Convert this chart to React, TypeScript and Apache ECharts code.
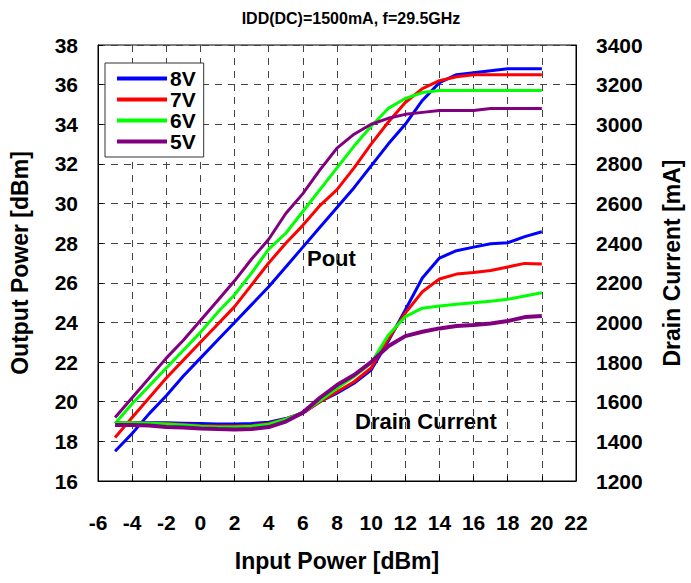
import React, { useEffect, useRef } from "react";
import * as echarts from "echarts";

// Input power sweep [dBm]
const inputPower = [-5, -4, -3, -2, -1, 0, 1, 2, 3, 4, 5, 6, 7, 8, 9, 10, 11, 12, 13, 14, 15, 16, 17, 18, 19, 20];

// Output power [dBm] per drain voltage
const pout8V = [17.5, 18.4, 19.4, 20.3, 21.3, 22.2, 23.1, 24.0, 24.9, 25.8, 26.8, 27.8, 28.8, 29.8, 30.8, 31.9, 33.0, 34.0, 35.2, 36.1, 36.5, 36.6, 36.7, 36.8, 36.8, 36.8];
const pout7V = [18.2, 19.2, 20.2, 21.2, 22.1, 23.0, 23.9, 24.8, 25.9, 27.0, 28.0, 28.9, 29.9, 30.7, 31.8, 33.0, 34.1, 35.1, 35.8, 36.2, 36.4, 36.5, 36.5, 36.5, 36.5, 36.5];
const pout6V = [18.9, 19.9, 20.8, 21.7, 22.6, 23.5, 24.5, 25.4, 26.5, 27.7, 28.5, 29.6, 30.7, 31.8, 32.9, 33.9, 34.8, 35.3, 35.6, 35.7, 35.7, 35.7, 35.7, 35.7, 35.7, 35.7];
const pout5V = [19.2, 20.2, 21.2, 22.2, 23.1, 24.1, 25.1, 26.1, 27.2, 28.2, 29.5, 30.5, 31.7, 32.8, 33.5, 34.0, 34.3, 34.5, 34.6, 34.7, 34.7, 34.7, 34.8, 34.8, 34.8, 34.8];

// Drain current [mA] per drain voltage
const idd8V = [1495, 1495, 1494, 1494, 1492, 1490, 1487, 1487, 1490, 1497, 1515, 1543, 1600, 1643, 1693, 1760, 1905, 2063, 2224, 2325, 2362, 2380, 2397, 2402, 2433, 2458];
const idd7V = [1494, 1494, 1492, 1490, 1485, 1480, 1477, 1477, 1480, 1490, 1513, 1543, 1600, 1650, 1701, 1770, 1915, 2047, 2155, 2219, 2244, 2252, 2262, 2280, 2298, 2295];
const idd6V = [1494, 1494, 1492, 1488, 1482, 1476, 1473, 1473, 1476, 1487, 1512, 1545, 1605, 1668, 1727, 1795, 1935, 2029, 2072, 2083, 2092, 2100, 2107, 2117, 2133, 2150];
const idd5V = [1482, 1482, 1480, 1472, 1470, 1465, 1462, 1460, 1462, 1472, 1500, 1545, 1620, 1684, 1735, 1800, 1880, 1931, 1953, 1970, 1982, 1987, 1995, 2007, 2027, 2033];

const voltages = ["8V", "7V", "6V", "5V"];
const colors = ["#0000FF", "#FF0000", "#00FF00", "#800080"];
const poutSets = [pout8V, pout7V, pout6V, pout5V];
const iddSets = [idd8V, idd7V, idd6V, idd5V];

const FONT = "'Liberation Sans', Arial, sans-serif";

const pair = (ys: number[]) => inputPower.map((x, i) => [x, ys[i]]);

export default function App() {
  const ref = useRef<HTMLDivElement>(null);

  useEffect(() => {
    if (!ref.current) return;
    const chart = echarts.init(ref.current, undefined, { renderer: "svg" });

    const dashed = { show: true, lineStyle: { color: "#444", type: [7, 6] as any, width: 1 } };
    const axisText = { color: "#000", fontFamily: FONT, fontWeight: "bold" as const, fontSize: 21 };
    const nameText = { color: "#000", fontFamily: FONT, fontWeight: "bold" as const, fontSize: 23 };
    const frame = { show: true, onZero: false, lineStyle: { color: "#000" } };
    const ticks = { show: true, inside: true, length: 5, lineStyle: { color: "#000" } };

    const series: any[] = [];
    voltages.forEach((v, k) => {
      series.push({
        name: v,
        type: "line",
        yAxisIndex: 0,
        data: pair(poutSets[k]),
        showSymbol: false,
        symbol: "none",
        lineStyle: { color: colors[k], width: 3 },
        itemStyle: { color: colors[k] },
      });
    });
    voltages.forEach((v, k) => {
      series.push({
        name: v,
        type: "line",
        yAxisIndex: 1,
        data: pair(iddSets[k]),
        showSymbol: false,
        symbol: "none",
        lineStyle: { color: colors[k], width: k === 3 ? 4 : 3 },
        itemStyle: { color: colors[k] },
      });
    });

    chart.setOption({
      animation: false,
      backgroundColor: "#fff",
      title: {
        text: "IDD(DC)=1500mA, f=29.5GHz",
        left: 346,
        top: 5,
        textAlign: "center",
        textStyle: { color: "#000", fontFamily: FONT, fontWeight: "bold", fontSize: 16 },
      },
      legend: {
        data: voltages,
        orient: "vertical",
        left: 105,
        top: 63,
        icon: "rect",
        itemWidth: 50,
        itemHeight: 4,
        itemGap: 0,
        padding: [5, 8, 5, 12],
        backgroundColor: "#fff",
        borderColor: "#333",
        borderWidth: 1,
        textStyle: { color: "#000", fontFamily: FONT, fontWeight: "bold", fontSize: 21, lineHeight: 20, padding: [0, 0, 0, -2] },
      },
      grid: {
        left: 94,
        right: 114,
        top: 45,
        bottom: 102,
        show: true,
        borderColor: "#000",
        borderWidth: 1,
        backgroundColor: "transparent",
      },
      xAxis: {
        type: "value",
        min: -6,
        max: 22,
        interval: 2,
        name: "Input Power [dBm]",
        nameLocation: "middle",
        nameGap: 68,
        nameTextStyle: nameText,
        axisLine: frame,
        axisTick: ticks,
        axisLabel: { ...axisText, margin: 31 },
        splitLine: dashed,
      },
      yAxis: [
        {
          type: "value",
          min: 16,
          max: 38,
          interval: 2,
          name: "Output Power [dBm]",
          nameLocation: "middle",
          nameGap: 67,
          nameRotate: 90,
          nameTextStyle: nameText,
          axisLine: frame,
          axisTick: ticks,
          axisLabel: { ...axisText, margin: 20 },
          splitLine: dashed,
        },
        {
          type: "value",
          min: 1200,
          max: 3400,
          interval: 200,
          position: "right",
          name: "Drain Current [mA]",
          nameLocation: "middle",
          nameGap: 84,
          nameRotate: 90,
          nameTextStyle: nameText,
          axisLine: frame,
          axisTick: ticks,
          axisLabel: { ...axisText, margin: 20, formatter: (v: number) => String(v) },
          splitLine: { show: false },
        },
      ],
      graphic: [
        {
          type: "text",
          left: 307,
          top: 247,
          style: { text: "Pout", fill: "#000", font: `bold 22px ${FONT}` },
        },
        {
          type: "text",
          left: 355,
          top: 410,
          style: { text: "Drain Current", fill: "#000", font: `bold 22px ${FONT}` },
        },
      ],
      series,
    });

    return () => chart.dispose();
  }, []);

  return (
    <div
      ref={ref}
      style={{ position: "fixed", left: 0, top: 0, width: 691, height: 583, background: "#fff" }}
    />
  );
}
